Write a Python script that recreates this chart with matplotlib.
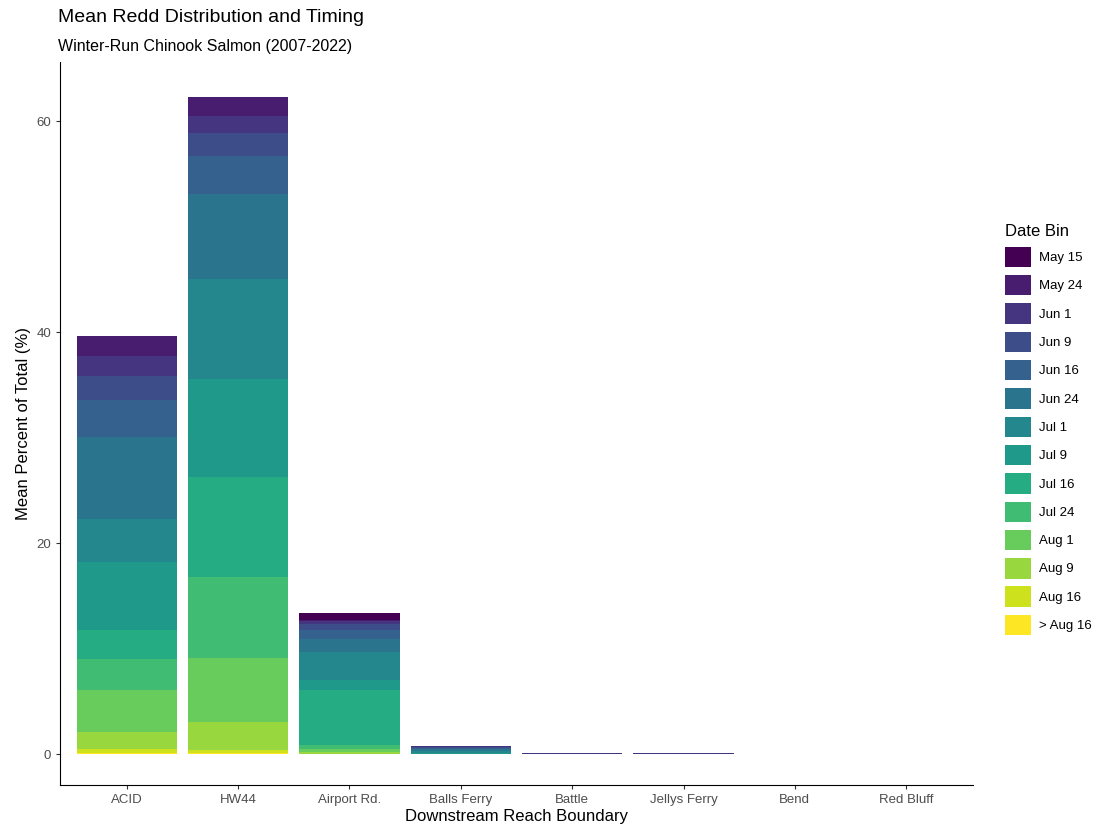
import matplotlib
matplotlib.use("Agg")
import matplotlib.pyplot as plt
import numpy as np
from matplotlib.patches import Patch

plt.rcParams['font.family'] = ['Liberation Sans', 'DejaVu Sans']

reaches = ["ACID", "HW44", "Airport Rd.", "Balls Ferry", "Battle", "Jellys Ferry", "Bend", "Red Bluff"]
bins = ["May 15", "May 24", "Jun 1", "Jun 9", "Jun 16", "Jun 24", "Jul 1", "Jul 9",
        "Jul 16", "Jul 24", "Aug 1", "Aug 9", "Aug 16", "> Aug 16"]
# values per reach, ordered as bins
acid = [0.0, 1.96, 1.89, 2.2, 3.5, 7.86, 4.04, 6.47, 2.67, 3.0, 3.95, 1.64, 0.4, 0.07]
hw44 = [0.0, 1.8, 1.6, 2.2, 3.6, 8.1, 9.4, 9.3, 9.5, 7.7, 6.1, 2.6, 0.3, 0.1]
airport = [0.7, 0.1, 0.3, 0.6, 0.8, 1.2, 2.7, 0.95, 5.2, 0.4, 0.27, 0.15, 0.05, 0.0]
balls = [0.0, 0.0, 0.05, 0.1, 0.15, 0.2, 0.15, 0.1, 0.0, 0.0, 0.0, 0.0, 0.0, 0.0]
battle = [0.0, 0.06, 0.06, 0.0, 0.0, 0.0, 0.0, 0.0, 0.0, 0.0, 0.0, 0.0, 0.0, 0.0]
jellys = [0.0, 0.0, 0.1, 0.0, 0.0, 0.0, 0.0, 0.0, 0.0, 0.0, 0.0, 0.0, 0.0, 0.0]
bend = [0.0] * 14
redbluff = [0.0] * 14
data = np.array([acid, hw44, airport, balls, battle, jellys, bend, redbluff])

colors = plt.cm.viridis(np.linspace(0, 1, len(bins)))

fig = plt.figure(figsize=(11.04, 8.39), dpi=100)
ax = fig.add_axes([60/1104, 1-785/839, (973-60)/1104, (785-62)/839])
x = np.arange(len(reaches))
bottom = np.zeros(len(reaches))
for i in range(len(bins) - 1, -1, -1):
    ax.bar(x, data[:, i], bottom=bottom, width=0.9, color=colors[i], edgecolor="none")
    bottom += data[:, i]

ax.set_xlim(-0.6, len(reaches) - 0.4)
ax.set_ylim(-2.93, 65.6)
ax.set_yticks([0, 20, 40, 60])
ax.set_xticks(x)
ax.set_xticklabels(reaches)
for s in ["top", "right"]:
    ax.spines[s].set_visible(False)
ax.tick_params(colors="#333333", labelsize=9.5, length=3)
ax.tick_params(axis="x", labelcolor="#4d4d4d")
ax.tick_params(axis="y", labelcolor="#4d4d4d")
ax.set_xlabel("Downstream Reach Boundary", fontsize=12, labelpad=2)
ax.set_ylabel("Mean Percent of Total (%)", fontsize=12)
fig.text(58/1104, 1-17/839, "Mean Redd Distribution and Timing", fontsize=14, va="center")
fig.text(58/1104, 1-46/839, "Winter-Run Chinook Salmon (2007-2022)", fontsize=11.5, va="center")

handles = [Patch(facecolor=colors[i], edgecolor="none") for i in range(len(bins))]
leg = fig.legend(handles, bins, loc="upper left", bbox_to_anchor=(993/1104, 1-212/839),
                 frameon=False, title="Date Bin", title_fontsize=12, fontsize=9.5,
                 handlelength=2.0, handleheight=2.0, labelspacing=0.6, handletextpad=0.6)
leg._legend_box.align = "left"
fig.savefig("out.png", dpi=100)
